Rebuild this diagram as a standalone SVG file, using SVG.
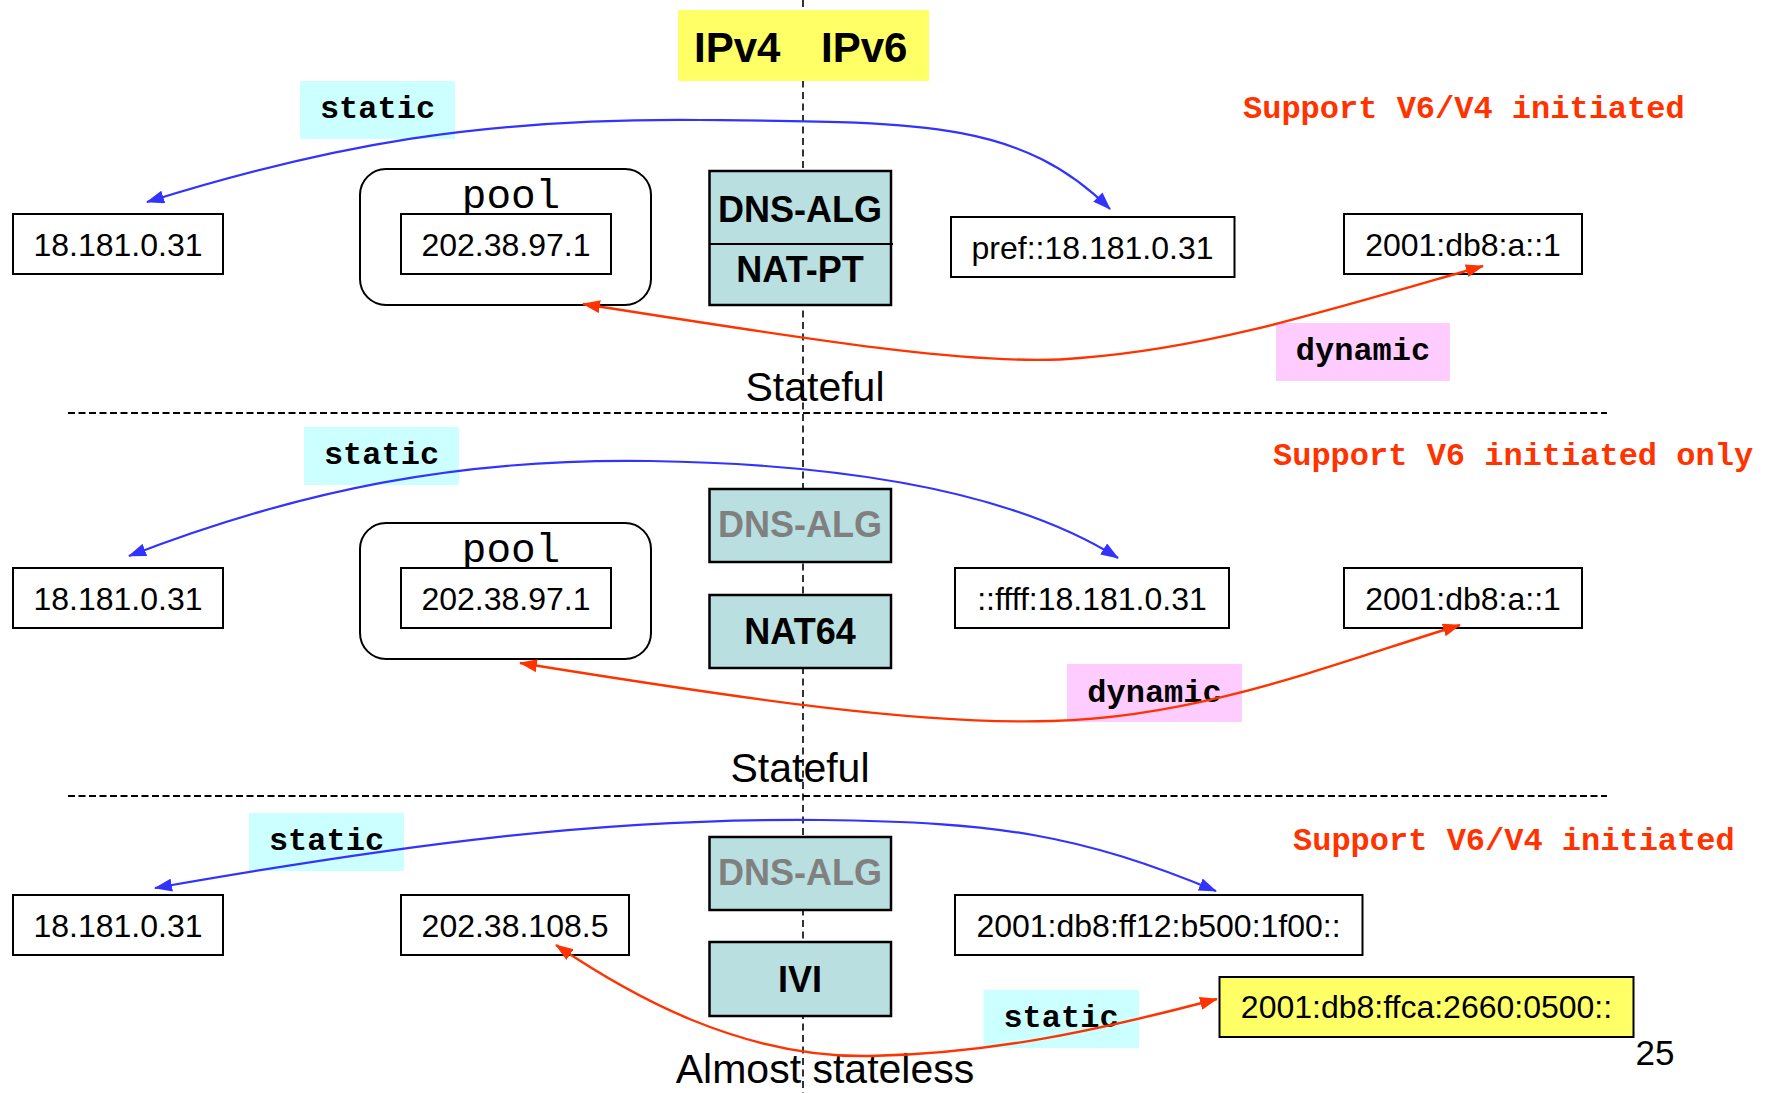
<svg xmlns="http://www.w3.org/2000/svg" width="1776" height="1093" viewBox="0 0 1776 1093">
  <style>
    .addr { fill: #ffffff; stroke: #000000; stroke-width: 2; }
    .addr-y { fill: #ffff66; stroke: #000000; stroke-width: 2; }
    .pool { fill: #ffffff; stroke: #000000; stroke-width: 2; }
    .xlat { fill: #badfe0; stroke: #000000; stroke-width: 2.5; }
    .t { font-family: "Liberation Sans", Arial, sans-serif; font-size: 32px; fill: #000000; text-anchor: middle; }
    .tb { font-family: "Liberation Sans", Arial, sans-serif; font-size: 36px; font-weight: bold; fill: #000000; text-anchor: middle; }
    .tg { fill: #808080; }
    .mono { font-family: "Liberation Mono", "Courier New", monospace; font-size: 32px; font-weight: bold; fill: #000000; text-anchor: middle; }
    .pooltxt { font-family: "Liberation Mono", "Courier New", monospace; font-size: 41px; fill: #000000; text-anchor: middle; }
    .note { font-family: "Liberation Mono", "Courier New", monospace; font-size: 32px; font-weight: bold; fill: #ff3300; }
    .caption { font-family: "Liberation Sans", Arial, sans-serif; font-size: 41px; fill: #000000; text-anchor: middle; }
    .cyan { fill: #ccffff; }
    .pink { fill: #ffccff; }
    .sep { stroke: #000000; stroke-width: 2; stroke-dasharray: 7 3.5; fill: none; }
    .vsep { stroke: #000000; stroke-width: 1.6; stroke-dasharray: 7 4.5; fill: none; }
    .blue { stroke: #3333ff; stroke-width: 2.2; fill: none; marker-start: url(#arrow-blue); marker-end: url(#arrow-blue); }
    .red { stroke: #ff3300; stroke-width: 2.4; fill: none; marker-start: url(#arrow-red); marker-end: url(#arrow-red); }
  </style>
  <defs>
    <marker id="arrow-blue" viewBox="0 0 18 13" refX="17" refY="6.5" markerWidth="18" markerHeight="13" markerUnits="userSpaceOnUse" orient="auto-start-reverse">
      <path d="M0,0 L18,6.5 L0,13 z" fill="#3333ff"/>
    </marker>
    <marker id="arrow-red" viewBox="0 0 18 13" refX="17" refY="6.5" markerWidth="18" markerHeight="13" markerUnits="userSpaceOnUse" orient="auto-start-reverse">
      <path d="M0,0 L18,6.5 L0,13 z" fill="#ff3300"/>
    </marker>
  </defs>

  <rect width="1776" height="1093" fill="#ffffff"/>

  <!-- IPv4 / IPv6 boundary and section separators -->
  <g id="separators">
    <line class="vsep" x1="803" y1="0" x2="803" y2="1093"/>
    <line class="sep" x1="68" y1="413" x2="1607" y2="413"/>
    <line class="sep" x1="68" y1="796" x2="1607" y2="796"/>
  </g>

  <g id="header">
    <rect x="678" y="10" width="251" height="71" fill="#ffff66"/>
    <text x="694" y="62" font-family="Liberation Sans, Arial, sans-serif" font-size="42" font-weight="bold">IPv4</text>
    <text x="821" y="62" font-family="Liberation Sans, Arial, sans-serif" font-size="42" font-weight="bold">IPv6</text>
  </g>

  <!-- Mapping labels -->
  <g id="label-static-1"><rect class="cyan" x="300" y="81" width="155" height="58"/><text class="mono" x="377.5" y="118">static</text></g>
  <g id="label-dynamic-1"><rect class="pink" x="1276" y="323" width="174" height="58"/><text class="mono" x="1363" y="360">dynamic</text></g>
  <g id="label-static-2"><rect class="cyan" x="304" y="427" width="155" height="58"/><text class="mono" x="381.5" y="464">static</text></g>
  <g id="label-dynamic-2"><rect class="pink" x="1067" y="664" width="175" height="58"/><text class="mono" x="1154.5" y="702">dynamic</text></g>
  <g id="label-static-3"><rect class="cyan" x="249" y="813" width="155" height="58"/><text class="mono" x="326.5" y="850">static</text></g>
  <g id="label-static-4"><rect class="cyan" x="983.5" y="990" width="155.5" height="58"/><text class="mono" x="1061" y="1027">static</text></g>

  <!-- Section 1: NAT-PT -->
  <g id="natpt-v4-host"><rect class="addr" x="13" y="214" width="210" height="60"/><text class="t" x="118" y="256">18.181.0.31</text></g>
  <g id="natpt-pool">
    <rect class="pool" x="360" y="169" width="291" height="136" rx="26" ry="26"/>
    <text class="pooltxt" x="511" y="208">pool</text>
    <rect class="addr" x="401" y="214" width="210" height="60"/>
    <text class="t" x="506" y="256">202.38.97.1</text>
  </g>
  <g id="natpt">
    <rect class="xlat" x="709.5" y="171" width="181.5" height="134"/>
    <line x1="709.5" y1="244" x2="893" y2="244" stroke="#000000" stroke-width="2"/>
    <text class="tb" x="800" y="222">DNS-ALG</text>
    <text class="tb" x="800" y="282">NAT-PT</text>
  </g>
  <g id="natpt-v6-prefix"><rect class="addr" x="951" y="217" width="283.5" height="60"/><text class="t" x="1092.5" y="259">pref::18.181.0.31</text></g>
  <g id="natpt-v6-host"><rect class="addr" x="1344" y="214" width="238" height="60"/><text class="t" x="1463" y="256">2001:db8:a::1</text></g>
  <text class="note" x="1243" y="118">Support V6/V4 initiated</text>
  <text class="caption" x="815" y="401">Stateful</text>

  <!-- Section 2: NAT64 -->
  <g id="nat64-v4-host"><rect class="addr" x="13" y="568" width="210" height="60"/><text class="t" x="118" y="610">18.181.0.31</text></g>
  <g id="nat64-pool">
    <rect class="pool" x="360" y="523" width="291" height="136" rx="26" ry="26"/>
    <text class="pooltxt" x="511" y="562">pool</text>
    <rect class="addr" x="401" y="568" width="210" height="60"/>
    <text class="t" x="506" y="610">202.38.97.1</text>
  </g>
  <g id="nat64-dns-alg"><rect class="xlat" x="709.5" y="489" width="181.5" height="73"/><text class="tb tg" x="800" y="537">DNS-ALG</text></g>
  <g id="nat64"><rect class="xlat" x="709.5" y="595" width="181.5" height="73"/><text class="tb" x="800" y="644">NAT64</text></g>
  <g id="nat64-v6-mapped"><rect class="addr" x="955" y="568" width="274" height="60"/><text class="t" x="1092" y="610">::ffff:18.181.0.31</text></g>
  <g id="nat64-v6-host"><rect class="addr" x="1344" y="568" width="238" height="60"/><text class="t" x="1463" y="610">2001:db8:a::1</text></g>
  <text class="note" x="1273" y="465">Support V6 initiated only</text>
  <text class="caption" x="800" y="782">Stateful</text>

  <!-- Section 3: IVI -->
  <g id="ivi-v4-host"><rect class="addr" x="13" y="895" width="210" height="60"/><text class="t" x="118" y="937">18.181.0.31</text></g>
  <g id="ivi-v4-addr"><rect class="addr" x="401" y="895" width="228" height="60"/><text class="t" x="515" y="937">202.38.108.5</text></g>
  <g id="ivi-dns-alg"><rect class="xlat" x="709.5" y="837" width="181.5" height="73"/><text class="tb tg" x="800" y="885">DNS-ALG</text></g>
  <g id="ivi"><rect class="xlat" x="709.5" y="942" width="181.5" height="74"/><text class="tb" x="800" y="992">IVI</text></g>
  <g id="ivi-v6-mapped"><rect class="addr" x="955" y="895" width="407.5" height="60"/><text class="t" x="1158.5" y="937">2001:db8:ff12:b500:1f00::</text></g>
  <g id="ivi-v6-addr"><rect class="addr-y" x="1219.5" y="977" width="414" height="60"/><text class="t" x="1426.5" y="1018">2001:db8:ffca:2660:0500::</text></g>
  <text class="note" x="1293" y="850">Support V6/V4 initiated</text>
  <text class="caption" x="825" y="1083" font-size="42">Almost stateless</text>
  <text x="1655" y="1065" font-family="Liberation Sans, Arial, sans-serif" font-size="35" text-anchor="middle">25</text>

  <!-- Address mappings -->
  <g id="connectors">
    <path class="blue" d="M147,202 C330,145 480,118 700,120 S1020,120 1110,209"/>
    <path class="red" d="M583,304 C800,338 980,368 1080,358 C1210,348 1330,310 1483,266"/>
    <path class="blue" d="M129,556 C300,490 460,458 650,461 S1010,490 1118,558"/>
    <path class="red" d="M520,663 C750,700 920,725 1052,721 C1200,717 1330,665 1460,625"/>
    <path class="blue" d="M155,888 C400,845 600,818 820,820 C1000,822 1080,835 1216,891"/>
    <path class="red" d="M556,945 C630,995 740,1058 870,1056 C990,1054 1100,1030 1217,999"/>
  </g>
</svg>
